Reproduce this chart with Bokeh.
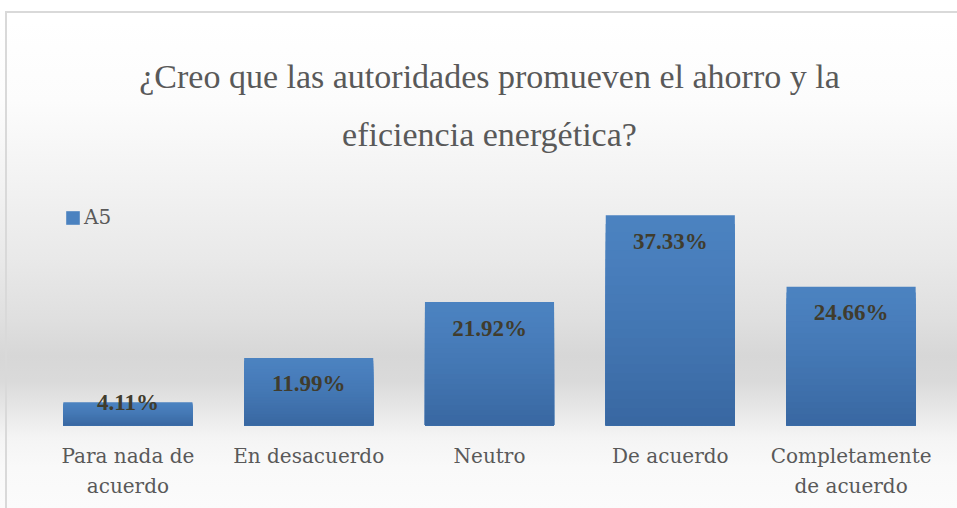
from bokeh.plotting import figure
from bokeh.models import ColumnDataSource, LabelSet, Range1d, Legend, LegendItem, Title
from bokeh.embed import file_html
from bokeh.resources import INLINE

# ---- data ----
categories = ["Para nada de\nacuerdo", "En desacuerdo", "Neutro", "De acuerdo", "Completamente\nde acuerdo"]
values = [4.11, 11.99, 21.92, 37.33, 24.66]
value_labels = ["4.11%", "11.99%", "21.92%", "37.33%", "24.66%"]
series_name = "A5"
title_lines = ["¿Creo que las autoridades promueven el ahorro y la", "eficiencia energética?"]

# ---- layout ----
W, H = 957, 508
min_top, min_bottom = 178, 83
frame_h = H - min_top - min_bottom
y_max = 43.87
ppu = frame_h / y_max

p = figure(width=W, height=H, x_range=categories, y_range=Range1d(0, y_max),
           output_backend="svg", toolbar_location=None, title=None,
           min_border_left=37, min_border_right=16, min_border_top=min_top, min_border_bottom=min_bottom)
p.background_fill_color = None
p.border_fill_color = None
p.outline_line_color = None
p.styles = {
    "background": "linear-gradient(#d9d9d9,#d9d9d9) 5px 11px / 2px 100% no-repeat, "
                  "linear-gradient(#d9d9d9,#d9d9d9) 5px 11px / 100% 2px no-repeat, "
                  "linear-gradient(to bottom, #ffffff 0%, #ffffff 4%, #fcfcfc 20%, #f3f3f3 35%, #e9e9e9 51%, "
                  "#dfdfdf 63%, #d7d7d7 70%, #dadada 75%, #e8e8e8 81%, #f4f4f4 86%, #f9f9f9 92%, #fbfbfb 100%)",
}

# bars with a smooth vertical shading: full bar then progressively darker, shorter overlays
N = 24
top_col = (0x4B, 0x82, 0xC0)
bot_col = (0x39, 0x68, 0xA2)
bar_renderers = []
for k in range(N):
    frac = 1 - k / N
    f = (k / (N - 1)) ** 1.3
    c = tuple(int(round(top_col[i] + (bot_col[i] - top_col[i]) * f)) for i in range(3))
    color = "#%02x%02x%02x" % c
    src = ColumnDataSource(dict(x=categories, top=[v * frac for v in values]))
    r = p.vbar(x="x", bottom=0, top="top", width=0.714, source=src,
               fill_color=color, line_color=None)
    bar_renderers.append(r)

# data labels
offsets = [-26 if v * ppu > 52 else 0 for v in values]
lsrc = ColumnDataSource(dict(x=categories, y=values, text=value_labels, yo=offsets))
p.add_layout(LabelSet(x="x", y="y", text="text", y_offset="yo", source=lsrc,
                      text_align="center", text_baseline="middle",
                      text_font="DejaVu Serif", text_font_style="bold",
                      text_font_size="23px", text_color="#403c2d"))

# legend
legend = Legend(items=[LegendItem(label=series_name, renderers=[bar_renderers[0]])],
                location="top_left", margin=27, padding=0,
                border_line_color=None, background_fill_alpha=0,
                glyph_width=17, glyph_height=17, label_standoff=3,
                label_text_font="DejaVu Serif", label_text_font_size="20px",
                label_text_color="#595959")
p.add_layout(legend)

# title (two centred lines; later-added sits higher)
t2 = Title(text=title_lines[1], align="center", text_font="Liberation Serif",
           text_font_size="34px", text_font_style="normal", text_color="#595959", standoff=52)
t1 = Title(text=title_lines[0], align="center", text_font="Liberation Serif",
           text_font_size="34px", text_font_style="normal", text_color="#595959", standoff=-15)
p.add_layout(t2, "above")
p.add_layout(t1, "above")

# axes
p.yaxis.visible = False
p.xgrid.grid_line_color = None
p.ygrid.grid_line_color = None
p.xaxis.axis_line_color = None
p.xaxis.major_tick_line_color = None
p.xaxis.minor_tick_line_color = None
p.xaxis.major_tick_out = 0
p.xaxis.major_label_standoff = 18
p.xaxis.major_label_text_font = "DejaVu Serif"
p.xaxis.major_label_text_font_size = "20px"
p.xaxis.major_label_text_line_height = 1.25
p.xaxis.major_label_text_color = "#595959"
p.x_range.range_padding = 0

open("out.html", "w").write(file_html(p, INLINE))
